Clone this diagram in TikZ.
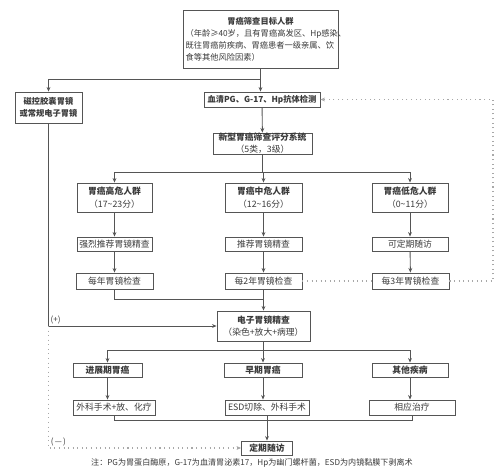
\documentclass[tikz,border=0pt]{standalone}
\usepackage{fontspec}
\setmainfont{Noto Sans CJK SC}
\usetikzlibrary{arrows.meta}
\definecolor{lncol}{HTML}{555555}
\definecolor{dotcol}{HTML}{A8A8A8}
\definecolor{txtcol}{HTML}{3A3A3A}
\tikzset{
    box/.style={draw=lncol, line width=0.5pt, inner sep=0pt, align=center, text=txtcol,
        font=\fontsize{5}{7}\selectfont},
    smallbox/.style={box, font=\fontsize{4.7}{7}\selectfont},
    wh/.style 2 args={minimum width=#1*0.02cm, minimum height=#2*0.02cm},
    arr/.style={draw=lncol, line width=0.5pt, -{Stealth[length=2.6pt,width=2.2pt]}},
    link/.style={draw=lncol, line width=0.5pt},
    dotlink/.style={draw=dotcol, line width=0.6pt, dotted},
    lbl/.style={text=txtcol, inner sep=1pt, font=\fontsize{4.6}{6}\selectfont},
}
\begin{document}
\begin{tikzpicture}[x=0.02cm, y=-0.02cm]
    \useasboundingbox[fill=white] (0,0) rectangle (500,474);
    % top of the chart
    \node[box, wh={155}{58}, text width=3.0cm, align=left, font=\fontsize{4.7}{6.8}\selectfont] (target) at (260.5,39)
        {{\centering\bfseries 胃癌筛查目标人群\par}（年龄≥40岁，且有胃癌高发区、Hp感染、\\既往胃癌前疾病、胃癌患者一级亲属、饮\\食等其他风险因素）};
    \node[smallbox, wh={67}{31}] (capsule) at (48.5,107.5) {\bfseries 磁控胶囊胃镜\\\bfseries 或常规电子胃镜};
    \node[smallbox, wh={116}{15}] (serum) at (262,99.5) {\bfseries 血清PG、G-17、Hp抗体检测};
    \node[box, wh={99}{21}] (score) at (262.5,143.5) {\bfseries 新型胃癌筛查评分系统\\（5类，3级）};
    % three risk groups
    \node[box, wh={75}{29}] (high) at (114.5,197.5) {\bfseries 胃癌高危人群\\（17\textasciitilde 23分）};
    \node[box, wh={77}{29}] (mid) at (263.5,197.5) {\bfseries 胃癌中危人群\\（12\textasciitilde 16分）};
    \node[box, wh={76}{29}] (low) at (410,197.5) {\bfseries 胃癌低危人群\\（0\textasciitilde 11分）};
    \node[box, wh={75}{14}] (strongrec) at (114.5,244) {强烈推荐胃镜精查};
    \node[box, wh={77}{14}] (rec) at (263.5,244) {推荐胃镜精查};
    \node[box, wh={76}{14}] (regular) at (410,244) {可定期随访};
    \node[box, wh={77}{16}] (yearly) at (114.5,281) {每年胃镜检查};
    \node[box, wh={77}{16}] (biyear) at (263.5,281) {每2年胃镜检查};
    \node[box, wh={77}{16}] (triyear) at (410.5,281) {每3年胃镜检查};
    % endoscopy and results
    \node[box, wh={93}{30}] (exam) at (263.5,326) {\bfseries 电子胃镜精查\\（染色+放大+病理）};
    \node[box, wh={69}{14}] (advanced) at (107.5,370) {\bfseries 进展期胃癌};
    \node[box, wh={78}{14}] (early) at (263,370) {\bfseries 早期胃癌};
    \node[box, wh={76}{14}] (other) at (410,370) {\bfseries 其他疾病};
    \node[box, wh={82}{15}] (surgery) at (114,407.5) {外科手术+放、化疗};
    \node[box, wh={84}{15}] (esd) at (267,407.5) {ESD切除、外科手术};
    \node[box, wh={86}{15}] (treat) at (412,407.5) {相应治疗};
    \node[box, wh={51}{14}] (follow) at (267,448) {\bfseries 定期随访};
    \node[lbl] (note) at (252,463) {注：PG为胃蛋白酶原，G-17为血清胃泌素17，Hp为幽门螺杆菌，ESD为内镜黏膜下剥离术};

    % connectors
    \coordinate (split1) at (target.south |- 0,79);
    \draw[arr] (target.south) -- (target.south |- serum.north);
    \draw[arr] (split1) -| (capsule.north);
    \draw[arr] (serum) -- (score);
    \coordinate (rail2) at (score.south |- 0,172);
    \draw[link] (score.south) -- (rail2);
    \foreach \n in {high,mid,low}
        \draw[arr] (rail2) -| (\n.north);
    \draw[arr] (high) -- (strongrec);
    \draw[arr] (mid) -- (rec);
    \draw[arr] (low) -- (regular);
    \draw[arr] (strongrec) -- (yearly);
    \draw[arr] (rec) -- (biyear);
    \draw[arr] (regular) -- (triyear);
    \coordinate (join3) at (biyear.south |- 0,299);
    \draw[link] (yearly.south) |- (join3);
    \draw[arr] (biyear.south) -- (exam.north);
    \draw[dotlink] (biyear.east) -- (triyear.west);
    \coordinate (rcorner) at (493,99.5);
    \draw[dotlink, -{Stealth[length=2.6pt,width=2.2pt]}] (triyear.east) -| (rcorner) -- (serum.east);
    \coordinate (lcorner) at (capsule.south |- exam.west);
    \draw[arr] (capsule.south) |- (exam.west) node[lbl, pos=0.5, above right] {(+)};
    \draw[dotlink, -{Stealth[length=2.6pt,width=2.2pt]}] (lcorner) |- (follow.west)
        node[lbl, pos=0.5, above right] {($-$)};
    \coordinate (rail5) at (exam.south |- 0,350);
    \draw[link] (exam.south) -- (rail5);
    \foreach \n in {advanced,early,other}
        \draw[arr] (rail5) -| (\n.north);
    \draw[arr] (advanced) -- (advanced.center |- surgery.north);
    \draw[arr] (early) -- (early.center |- esd.north);
    \draw[arr] (other) -- (other.center |- treat.north);
    \coordinate (rail6) at (follow.north |- 0,420);
    \foreach \n in {surgery,esd,treat}
        \draw[link] (\n.south) |- (rail6);
    \draw[arr] (rail6) -- (follow.north);
\end{tikzpicture}
\end{document}
